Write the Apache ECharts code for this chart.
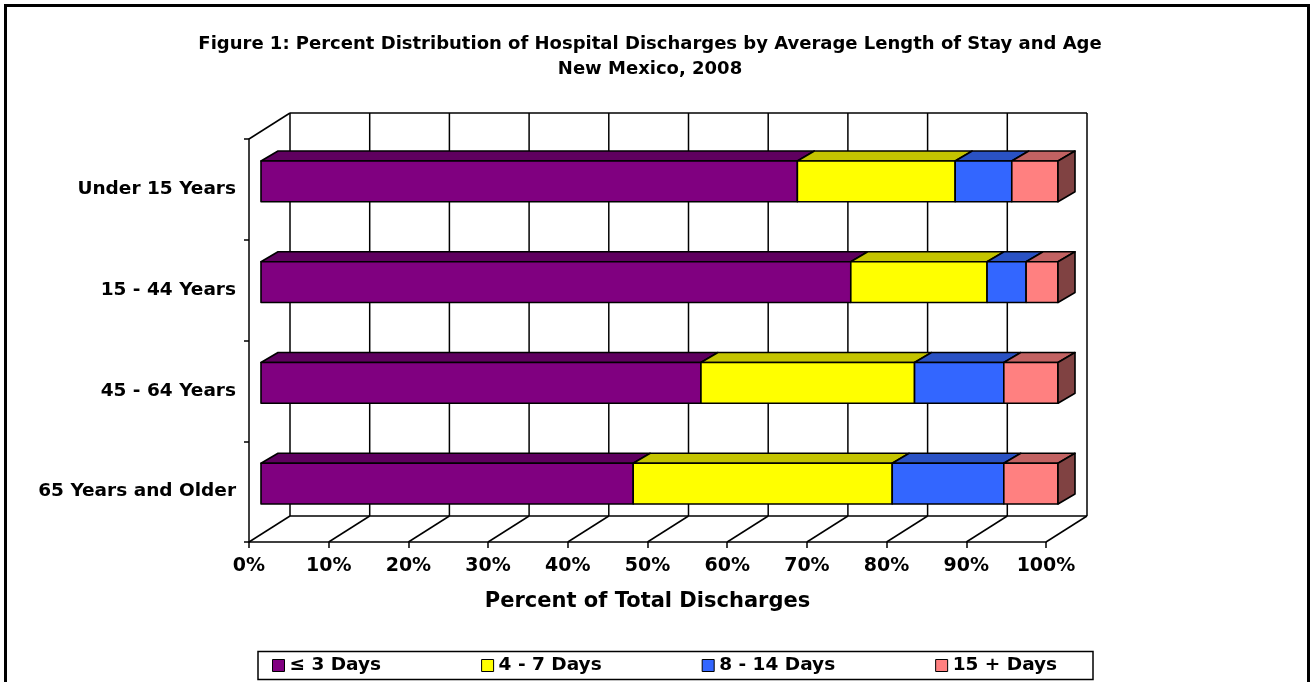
<!DOCTYPE html>
<html>
<head>
<meta charset="utf-8">
<script src="https://cdn.jsdelivr.net/npm/echarts@6/dist/echarts.min.js"></script>
<style>
  html, body { margin: 0; padding: 0; background: #fff; }
  #chart { width: 1314px; height: 682px; }
</style>
</head>
<body>
<div id="chart"></div>
<script>
// categories (top to bottom)
var ageGroups = ['Under 15 Years', '15 - 44 Years', '45 - 64 Years', '65 Years and Older'];
// percent of discharges by length of stay
var stay3 = [67.3, 74.0, 55.2, 46.7];
var stay4to7 = [19.8, 17.1, 26.8, 32.5];
var stay8to14 = [7.1, 4.9, 11.2, 14.0];
var stay15 = [5.8, 4.0, 6.8, 6.8];
var seriesNames = ['\u2264 3 Days', '4 - 7 Days', '8 - 14 Days', '15 + Days'];
var xTicks = [0, 10, 20, 30, 40, 50, 60, 70, 80, 90, 100];

var FONT = '"DejaVu Sans", sans-serif';
// 3d look: back wall offset and bar placement in depth
var DX = 41, DY = -26;
var BX = 12, BY = -8, TX = 17, TY = -10;

var colors = [
  {front: '#800080', top: '#5f005f', side: '#400040'},
  {front: '#ffff00', top: '#c4c400', side: '#808000'},
  {front: '#3366ff', top: '#2a52c4', side: '#1a3380'},
  {front: '#ff8080', top: '#c26262', side: '#804242'}
];

var chart = echarts.init(document.getElementById('chart'));

// stacked start / end for each segment
var allData = [stay3, stay4to7, stay8to14, stay15];
var cum = ageGroups.map(function () { return 0; });
var segData = allData.map(function (arr) {
  return arr.map(function (v, i) {
    var s = cum[i];
    cum[i] = s + v;
    return [i, s, s + v];
  });
});

function wallItem(params, api) {
  var cs = params.coordSys;
  var v = api.value(0);
  var x = api.coord([v, 0])[0];
  var top = cs.y, bot = cs.y + cs.height;
  var st = {stroke: '#000', lineWidth: 1.5};
  var kids = [
    {type: 'line', shape: {x1: x + DX, y1: top + DY, x2: x + DX, y2: bot + DY}, style: st},
    {type: 'line', shape: {x1: x, y1: bot, x2: x + DX, y2: bot + DY}, style: st}
  ];
  if (params.dataIndex === 0) {
    var xr = cs.x + cs.width;
    kids.push({type: 'line', shape: {x1: x + DX, y1: top + DY, x2: xr + DX, y2: top + DY}, style: st});
    kids.push({type: 'line', shape: {x1: x + DX, y1: bot + DY, x2: xr + DX, y2: bot + DY}, style: st});
    kids.push({type: 'line', shape: {x1: x, y1: top, x2: x + DX, y2: top + DY}, style: st});
  }
  return {type: 'group', children: kids};
}

function barItem(k) {
  return function (params, api) {
    var cat = api.value(0);
    var p0 = api.coord([api.value(1), cat]);
    var p1 = api.coord([api.value(2), cat]);
    var h = api.size([0, 1])[1] * 0.405;
    var x1 = p0[0] + BX, x2 = p1[0] + BX;
    var y1 = p0[1] + BY - h / 2, y2 = y1 + h;
    var st = {stroke: '#000', lineWidth: 1.6, lineJoin: 'round'};
    var kids = [
      {type: 'polygon', shape: {points: [[x1, y1], [x1 + TX, y1 + TY], [x2 + TX, y1 + TY], [x2, y1]]},
        style: Object.assign({fill: colors[k].top}, st)},
      {type: 'polygon', shape: {points: [[x1, y1], [x2, y1], [x2, y2], [x1, y2]]},
        style: Object.assign({fill: colors[k].front}, st)}
    ];
    if (k === allData.length - 1) {
      kids.push({type: 'polygon', shape: {points: [[x2, y1], [x2 + TX, y1 + TY], [x2 + TX, y2 + TY], [x2, y2]]},
        style: Object.assign({fill: colors[k].side}, st)});
    }
    return {type: 'group', children: kids};
  };
}

var series = [{
  name: 'walls',
  type: 'custom',
  silent: true,
  renderItem: wallItem,
  encode: {x: 0, y: 1},
  data: xTicks.map(function (v) { return [v, 0]; }),
  z: 1
}];
segData.forEach(function (d, k) {
  series.push({
    name: seriesNames[k],
    type: 'custom',
    silent: true,
    renderItem: barItem(k),
    encode: {x: [1, 2], y: 0},
    itemStyle: {color: colors[k].front},
    data: d,
    z: 2
  });
});

var option = {
  animation: false,
  backgroundColor: '#fff',
  title: {
    text: 'Figure 1: Percent Distribution of Hospital Discharges by Average Length of Stay and Age\nNew Mexico, 2008',
    left: 645,
    textAlign: 'center',
    top: 27,
    textStyle: {fontFamily: FONT, fontWeight: 'bold', fontSize: 18, lineHeight: 25, color: '#000'}
  },
  graphic: [
    {type: 'rect', shape: {x: 5.5, y: 5.5, width: 1303, height: 700},
      style: {fill: 'none', stroke: '#000', lineWidth: 3}, silent: true, z: 0},
    {type: 'rect', shape: {x: 258, y: 651.5, width: 835, height: 28},
      style: {fill: '#fff', stroke: '#000', lineWidth: 1.5}, silent: true, z: 0}
  ],
  legend: {
    data: seriesNames,
    left: 272,
    top: 656,
    padding: 0,
    itemWidth: 12,
    itemHeight: 12,
    itemGap: 100,
    icon: 'rect',
    itemStyle: {borderColor: '#000', borderWidth: 1},
    textStyle: {fontFamily: FONT, fontWeight: 'bold', fontSize: 18.5, color: '#000'},
    selectedMode: false
  },
  grid: {left: 249, right: 268, top: 139, bottom: 140, containLabel: false},
  xAxis: {
    type: 'value',
    min: 0,
    max: 100,
    interval: 10,
    name: 'Percent of Total Discharges',
    nameLocation: 'middle',
    nameGap: 49,
    nameTextStyle: {fontFamily: FONT, fontWeight: 'bold', fontSize: 21, color: '#000'},
    axisLine: {show: true, lineStyle: {color: '#000', width: 1.5}},
    axisTick: {show: true, length: 6, lineStyle: {color: '#000', width: 1.5}},
    axisLabel: {formatter: '{value}%', margin: 15, fontFamily: FONT, fontWeight: 'bold', fontSize: 19, color: '#000'},
    splitLine: {show: false}
  },
  yAxis: {
    type: 'category',
    inverse: true,
    data: ageGroups,
    axisLine: {show: true, lineStyle: {color: '#000', width: 1.5}},
    axisTick: {show: true, length: 5, lineStyle: {color: '#000', width: 1.5}},
    axisLabel: {margin: 13, fontFamily: FONT, fontWeight: 'bold', fontSize: 18.5, color: '#000'},
    splitLine: {show: false}
  },
  series: series
};

chart.setOption(option);
</script>
</body>
</html>
